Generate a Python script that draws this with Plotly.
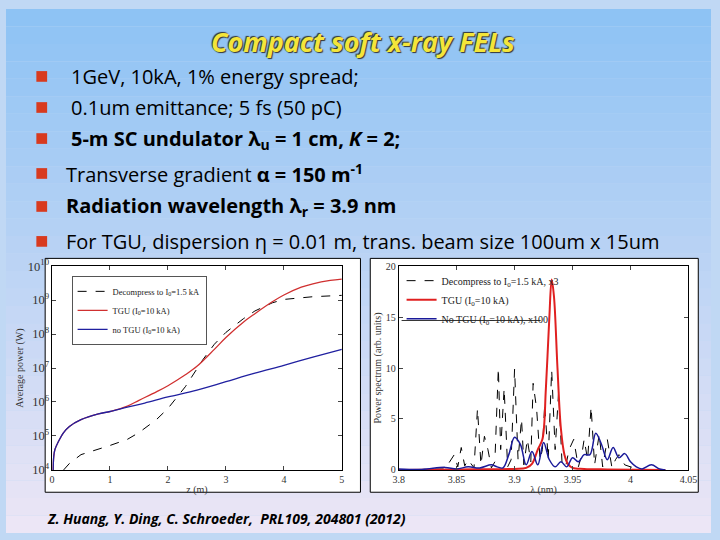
import plotly.graph_objects as go
import numpy as np

# Left panel: average power vs z (log10 W)
z_blue = [0.02, 0.03, 0.05, 0.1, 0.2, 0.3, 0.5, 0.8, 1.0, 1.3, 1.6, 2.0, 2.5, 3.0, 3.5, 4.0, 4.5, 5.0]
p_blue = [4.0, 4.4, 4.6, 4.8, 5.1, 5.28, 5.48, 5.65, 5.72, 5.85, 5.97, 6.15, 6.35, 6.6, 6.85, 7.08, 7.32, 7.55]
z_red = [0.02, 0.03, 0.05, 0.1, 0.2, 0.3, 0.5, 0.8, 1.0, 1.3, 1.5, 1.8, 2.0, 2.3, 2.5, 2.8, 3.0, 3.3, 3.5, 3.8, 4.0, 4.3, 4.5, 4.8, 5.0]
p_red = [4.0, 4.4, 4.6, 4.8, 5.1, 5.28, 5.48, 5.65, 5.72, 5.88, 6.05, 6.3, 6.48, 6.8, 7.05, 7.55, 7.9, 8.35, 8.6, 8.95, 9.15, 9.38, 9.48, 9.58, 9.62]
z_black = [0.2, 0.3, 0.5, 0.8, 1.0, 1.3, 1.5, 1.8, 2.0, 2.3, 2.6, 2.8, 3.0, 3.3, 3.5, 3.8, 4.0, 4.5, 5.0]
p_black = [4.0, 4.19, 4.45, 4.6, 4.72, 4.9, 5.1, 5.48, 5.81, 6.45, 7.24, 7.7, 8.05, 8.45, 8.68, 8.92, 9.02, 9.1, 9.14]

# Right panel: spectrum vs wavelength (nm)
lam_red = [3.80, 3.85, 3.90, 3.91, 3.915, 3.92, 3.924, 3.927, 3.930, 3.932, 3.934, 3.937, 3.940, 3.943, 3.946, 3.950, 3.960, 3.980, 4.03]
s_red = [0.0, 0.05, 0.1, 0.2, 0.6, 2.0, 3.0, 8.0, 15.0, 18.7, 17.0, 10.0, 4.0, 1.5, 0.6, 0.2, 0.1, 0.05, 0.0]
lam_blue = [3.80, 3.82, 3.84, 3.85, 3.86, 3.87, 3.88, 3.885, 3.89, 3.895, 3.90, 3.905, 3.91, 3.915, 3.92, 3.925, 3.93, 3.935, 3.94, 3.945, 3.95, 3.955, 3.96, 3.965, 3.97, 3.975, 3.98, 3.985, 3.99, 3.995, 4.00, 4.005, 4.01, 4.018, 4.025, 4.03]
s_blue = [0.1, 0.05, 0.25, 0.1, 0.3, 0.2, 0.5, 0.3, 0.2, 1.5, 3.2, 2.5, 0.5, 1.8, 0.5, 2.7, 1.0, 0.3, 0.8, 0.3, 1.2, 0.8, 1.5, 1.5, 3.6, 2.5, 1.0, 2.2, 1.2, 1.6, 0.8, 0.3, 0.1, 0.5, 0.1, 0.0]
lam_black = [3.80, 3.84, 3.848, 3.851, 3.854, 3.857, 3.860, 3.865, 3.868, 3.871, 3.874, 3.877, 3.880, 3.883, 3.886, 3.888, 3.891, 3.894, 3.897, 3.900, 3.903, 3.906, 3.908, 3.911, 3.914, 3.916, 3.919, 3.922, 3.924, 3.926, 3.929, 3.932, 3.935, 3.938, 3.941, 3.944, 3.947, 3.951, 3.955, 3.958, 3.960, 3.963, 3.966, 3.969, 3.973, 3.976, 3.980, 3.984, 3.987, 3.990, 3.995, 4.000, 4.010, 4.03]
s_black = [0.0, 0.1, 1.5, 0.3, 2.2, 0.4, 1.0, 0.2, 6.0, 0.5, 3.3, 2.0, 0.2, 0.8, 10.0, 2.0, 8.0, 0.3, 1.0, 9.9, 1.0, 5.0, 0.5, 3.0, 0.8, 8.5, 6.0, 1.0, 2.0, 6.5, 1.0, 9.8, 2.0, 7.7, 0.5, 0.3, 2.0, 3.0, 0.3, 1.5, 3.0, 1.0, 6.2, 0.5, 3.5, 0.3, 3.0, 0.2, 1.0, 1.5, 0.5, 0.3, 0.0, 0.0]

serif = "Liberation Serif"
fig = go.Figure()
fig.add_trace(go.Scatter(x=z_black, y=[10**v for v in p_black], mode="lines", line=dict(color="black", dash="dash", width=1),
                         name="Decompress to I<sub>0</sub>=1.5 kA", legend="legend"))
fig.add_trace(go.Scatter(x=z_red, y=[10**v for v in p_red], mode="lines", line=dict(color="#d03030", width=1.3, shape="spline"),
                         name="TGU (I<sub>0</sub>=10 kA)", legend="legend"))
fig.add_trace(go.Scatter(x=z_blue, y=[10**v for v in p_blue], mode="lines", line=dict(color="#2020a0", width=1.3, shape="spline"),
                         name="no TGU (I<sub>0</sub>=10 kA)", legend="legend"))
fig.add_trace(go.Scatter(x=lam_black, y=s_black, mode="lines", xaxis="x2", yaxis="y2", line=dict(color="black", dash="dash", width=1),
                         name="Decompress to I<sub>0</sub>=1.5 kA, x3", legend="legend2"))
fig.add_trace(go.Scatter(x=lam_red, y=s_red, mode="lines", xaxis="x2", yaxis="y2", line=dict(color="#e02020", width=2, shape="spline"),
                         name="TGU (I<sub>0</sub>=10 kA)", legend="legend2"))
fig.add_trace(go.Scatter(x=lam_blue, y=s_blue, mode="lines", xaxis="x2", yaxis="y2", line=dict(color="#1a1a9a", width=1.5, shape="spline"),
                         name="No TGU (I<sub>0</sub>=10 kA), x100", legend="legend2"))

shapes = []
top = np.array([0x8E, 0xC3, 0xF4]); bot = np.array([0xEC, 0xE6, 0xF6])
n = 30
for i in range(n):
    c = top + (bot - top) * i / (n - 1)
    shapes.append(dict(type="rect", xref="paper", yref="paper", x0=0, x1=1, y0=1 - (i + 1) / n, y1=1 - i / n,
                       fillcolor="rgb(%d,%d,%d)" % tuple(c.astype(int)), line=dict(width=0), layer="below"))
for x0, x1 in [(40, 362), (372, 707)]:
    shapes.append(dict(type="rect", xref="paper", yref="paper", x0=x0 / 720, x1=x1 / 720, y0=1 - 498 / 540, y1=1 - 257 / 540,
                       fillcolor="white", line=dict(color="black", width=1), layer="below"))
for yy in [70, 102, 134, 170, 204, 240]:
    shapes.append(dict(type="rect", xref="paper", yref="paper", x0=31 / 720, x1=42 / 720, y0=1 - (yy + 5) / 540, y1=1 - (yy - 6) / 540,
                       fillcolor="#d83a1e", line=dict(width=0)))
shapes.append(dict(type="line", xref="paper", yref="paper", x0=404 / 720, x1=546 / 720, y0=1 - 321 / 540, y1=1 - 321 / 540,
                   line=dict(color="black", width=0.8)))

txt = "Open Sans"
ann = [
    dict(x=0.507, y=1 - 33 / 540, text="<b><i>Compact soft x-ray FELs</i></b>", font=dict(family=txt, size=27, color="#F4E53A", shadow="1px 1px 1px #333, -1px -1px 1px #333"), xanchor="center"),
    dict(x=64 / 720, y=1 - 70 / 540, text="1GeV, 10kA, 1% energy spread;", xanchor="left"),
    dict(x=64 / 720, y=1 - 102 / 540, text="0.1um emittance; 5 fs (50 pC)", xanchor="left"),
    dict(x=64 / 720, y=1 - 134 / 540, text="<b>5-m SC undulator λ<sub>u</sub> = 1 cm, <i>K</i> = 2;</b>", xanchor="left"),
    dict(x=59 / 720, y=1 - 170 / 540, text="Transverse gradient <b>α = 150 m<sup>-1</sup></b>", xanchor="left"),
    dict(x=59 / 720, y=1 - 204 / 540, text="<b>Radiation wavelength λ<sub>r</sub> = 3.9 nm</b>", xanchor="left"),
    dict(x=59 / 720, y=1 - 240 / 540, text="For TGU, dispersion η = 0.01 m, trans. beam size 100um x 15um", xanchor="left"),
    dict(x=225 / 720, y=1 - 525 / 540, text="<b><i>Z. Huang, Y. Ding, C. Schroeder,  PRL109, 204801 (2012)</i></b>", font=dict(family=txt, size=14, color="black"), xanchor="center"),
]
for a in ann:
    a.setdefault("font", dict(family=txt, size=20, color="black"))
    a.update(xref="paper", yref="paper", showarrow=False, yanchor="middle")

ax = dict(showline=True, mirror="ticks", linecolor="black", linewidth=1, ticks="inside", ticklen=4, showgrid=False, zeroline=False,
          tickfont=dict(family=serif, size=10, color="#333"), title_font=dict(family=serif, size=10, color="#333"), title_standoff=2)
fig.update_layout(
    width=720, height=540, margin=dict(l=0, r=0, t=0, b=0), paper_bgcolor="#c0d8f4", plot_bgcolor="white",
    shapes=shapes, annotations=ann,
    xaxis=dict(ax, domain=[47 / 720, 343 / 720], range=[0, 5], dtick=1, title_text="z (m)", anchor="y"),
    yaxis=dict(ax, domain=[1 - 475 / 540, 1 - 265 / 540], type="log", range=[4, 10], dtick=1, exponentformat="power",
               title_text="Average power (W)", anchor="x"),
    xaxis2=dict(ax, domain=[401 / 720, 697 / 720], range=[3.8, 4.05], tickvals=[3.8, 3.85, 3.9, 3.95, 4, 4.05],
                ticktext=["3.8", "3.85", "3.9", "3.95", "4", "4.05"], title_text="λ (nm)", anchor="y2"),
    yaxis2=dict(ax, domain=[1 - 475 / 540, 1 - 265 / 540], range=[0, 20], dtick=5, title_text="Power spectrum (arb. units)", anchor="x2"),
    legend=dict(x=67 / 720, y=1 - 275 / 540, xanchor="left", yanchor="top", bgcolor="white", bordercolor="#555", borderwidth=1,
                font=dict(family=serif, size=8.5, color="#222"), tracegroupgap=0, itemwidth=30),
    legend2=dict(x=404 / 720, y=1 - 265 / 540, xanchor="left", yanchor="top", bgcolor="rgba(0,0,0,0)",
                 font=dict(family=serif, size=10, color="#222"), tracegroupgap=0, itemwidth=30),
)
fig.write_html("out.html", config={"displayModeBar": False},
               post_script="document.body.style.margin='0';document.body.style.overflow='hidden';window.dispatchEvent(new Event('resize'));")
